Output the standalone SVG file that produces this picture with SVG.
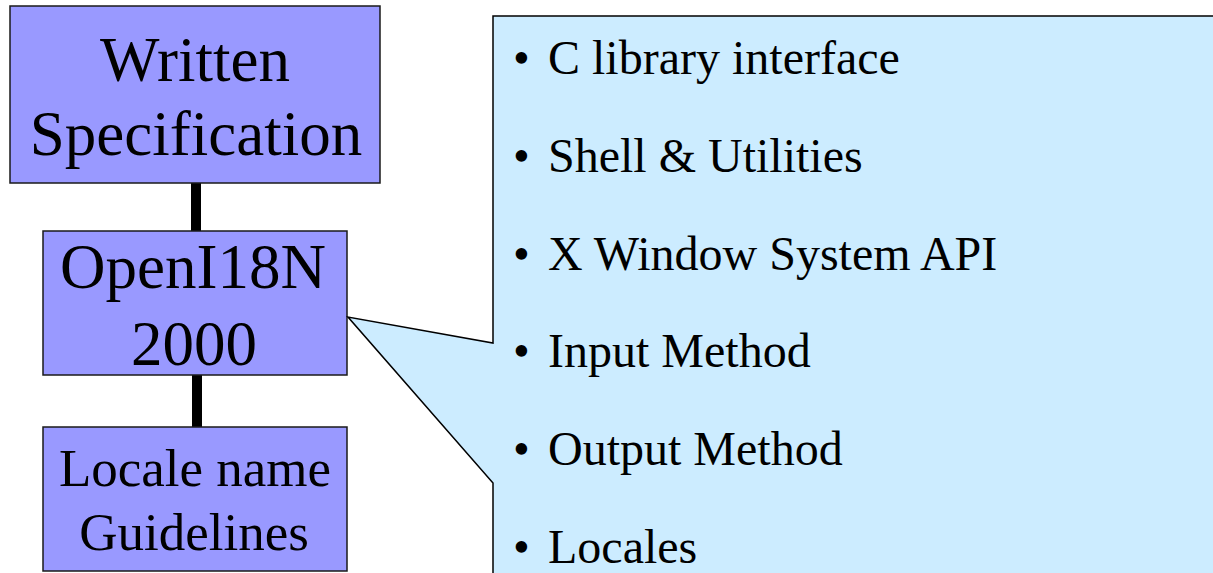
<svg xmlns="http://www.w3.org/2000/svg" width="1213" height="573" viewBox="0 0 1213 573">
<style>
.box{fill:#9999FF;stroke:#1a1a1a;stroke-width:1.5}
.t{font-family:"Liberation Serif","Times New Roman",serif;fill:#000;text-anchor:middle}
.b{font-family:"Liberation Serif","Times New Roman",serif;fill:#000;font-size:48px}
.conn{stroke:#000;stroke-width:10;fill:none}
</style>
<rect width="1213" height="573" fill="#fff"/>
<g id="connectors">
<line class="conn" x1="196" y1="183" x2="196" y2="231"/>
<line class="conn" x1="197" y1="375" x2="197" y2="427"/>
</g>
<g id="written-spec">
<rect class="box" x="10" y="6" width="370" height="177"/>
<text class="t" x="195" y="81" font-size="63">Written</text>
<text class="t" x="196" y="155" font-size="63">Specification</text>
</g>
<g id="openi18n">
<rect class="box" x="43" y="231" width="304" height="144"/>
<text class="t" x="193" y="288" font-size="63">OpenI18N</text>
<text class="t" x="194" y="365" font-size="63">2000</text>
</g>
<g id="locale-guidelines">
<rect class="box" x="43" y="427" width="304" height="144"/>
<text class="t" x="195" y="486" font-size="53">Locale name</text>
<text class="t" x="194" y="550" font-size="53">Guidelines</text>
</g>
<g id="callout">
<polygon points="493,16 1220,16 1220,580 493,580 493,483 348,317 493,343" fill="#CCECFF" stroke="#000" stroke-width="1.5"/>
<text class="b" x="513" y="74">•</text><text class="b" x="548" y="74">C library interface</text>
<text class="b" x="513" y="172">•</text><text class="b" x="548" y="172">Shell &amp; Utilities</text>
<text class="b" x="513" y="270">•</text><text class="b" x="548" y="270">X Window System API</text>
<text class="b" x="513" y="367">•</text><text class="b" x="548" y="367">Input Method</text>
<text class="b" x="513" y="465">•</text><text class="b" x="548" y="465">Output Method</text>
<text class="b" x="513" y="563">•</text><text class="b" x="548" y="563">Locales</text>
</g>
</svg>
